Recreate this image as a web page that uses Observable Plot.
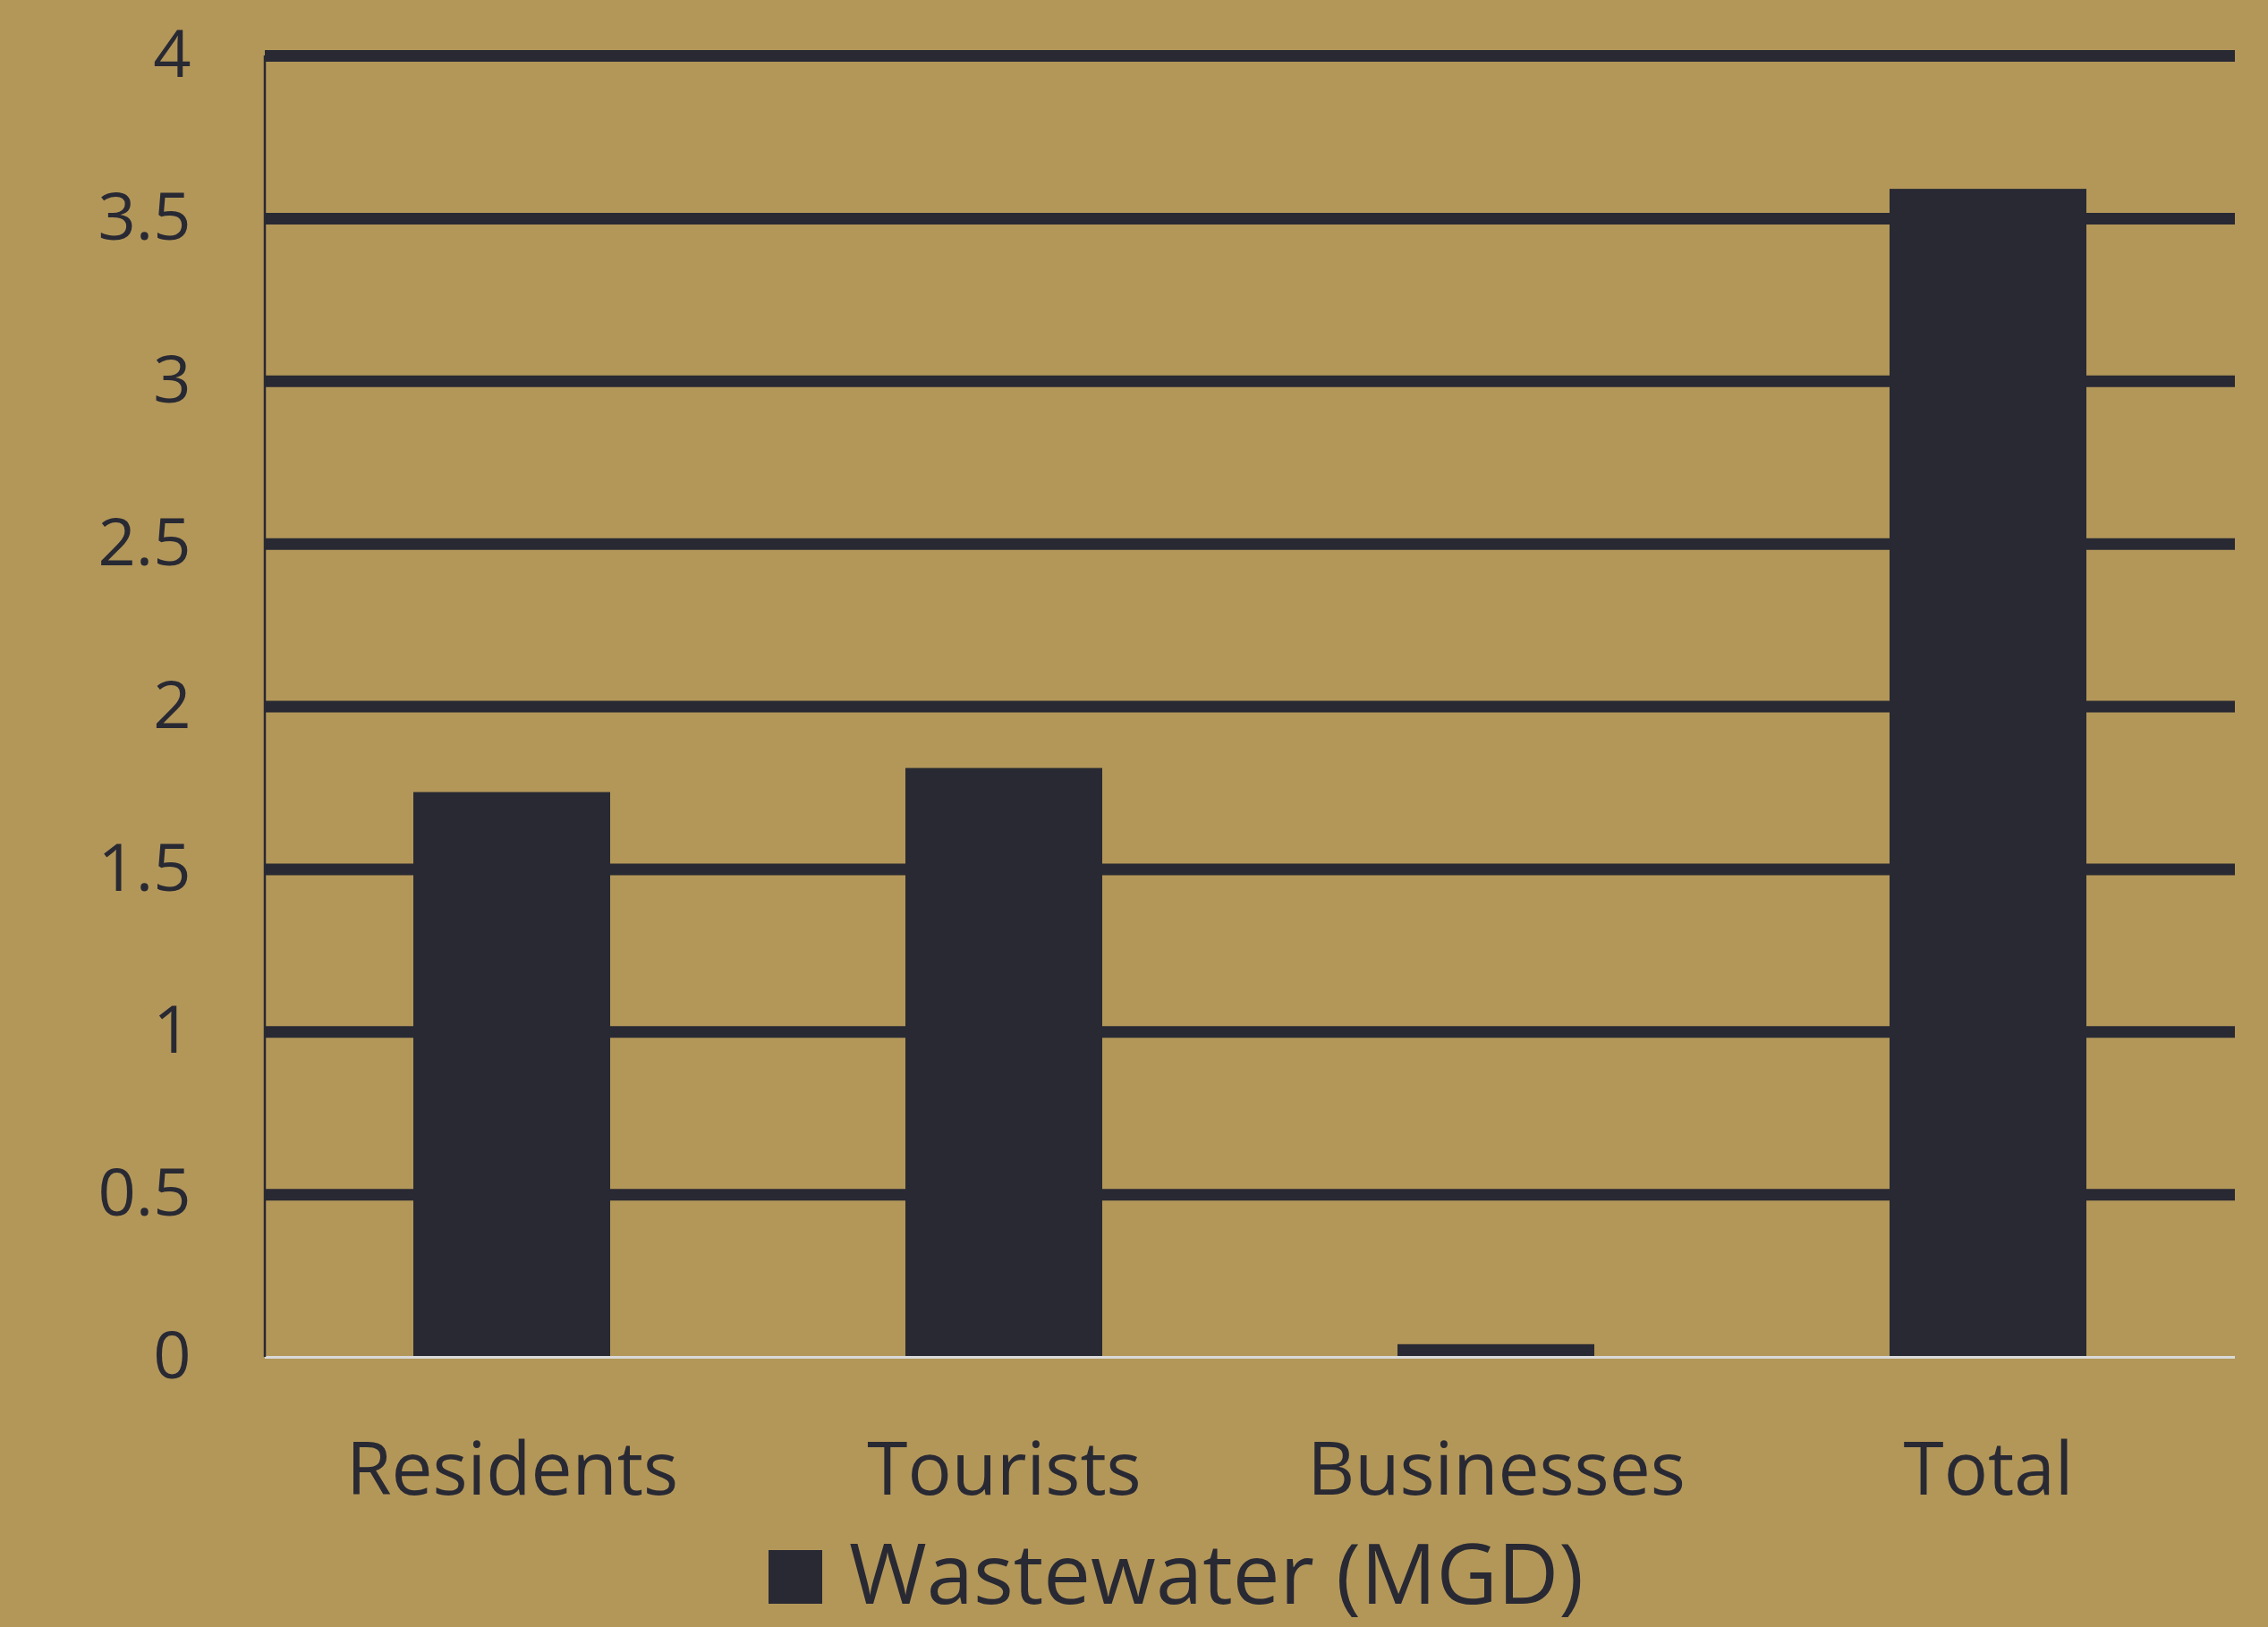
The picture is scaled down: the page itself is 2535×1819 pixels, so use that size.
<!DOCTYPE html>
<html>
<head>
<meta charset="utf-8">
<script src="https://cdn.jsdelivr.net/npm/d3@7"></script>
<script src="https://cdn.jsdelivr.net/npm/@observablehq/plot@0.6"></script>
<style>
  html, body { margin: 0; padding: 0; background: #B39759; }
  body { width: 2535px; min-height: 1819px; font-family: "Open Sans", sans-serif; color: #282933; }
  #legend { display: flex; align-items: baseline; padding-left: 859px; margin-top: 10px; font-size: 94px; line-height: 1; }
  #legend .sw { display: inline-block; width: 60px; height: 60px; background: #282933; margin-right: 30px; }
</style>
</head>
<body>
<div id="chart"></div>
<div id="legend"><span class="sw"></span><span>Wastewater (MGD)</span></div>
<script>
const categories = ["Residents", "Tourists", "Businesses", "Total"];
const wastewater = [1.736, 1.81, 0.039, 3.59];
const yTicks = [0, 0.5, 1, 1.5, 2, 2.5, 3, 3.5, 4];
const gridTicks = [0.5, 1, 1.5, 2, 2.5, 3, 3.5, 4];

const data = categories.map((c, i) => ({category: c, value: wastewater[i]}));
const dark = "#282933";

// left axis line, drawn from the y scale
const axisLine = (index, scales, values, dimensions) => {
  const x0 = dimensions.marginLeft;
  const [d0, d1] = scales.scales ? scales.scales.y.domain : [0, 4];
  return d3.create("svg:line")
    .attr("x1", x0).attr("x2", x0)
    .attr("y1", scales.y(4)).attr("y2", scales.y(0))
    .attr("stroke", dark).attr("stroke-width", 2.5)
    .node();
};

const plot = Plot.plot({
  width: 2535,
  height: 1700,
  marginLeft: 296,
  marginRight: 37,
  marginTop: 62,
  marginBottom: 183,
  style: {background: "#B39759", color: dark, fontFamily: "Open Sans, sans-serif", fontSize: "74px", overflow: "visible"},
  x: {domain: categories, paddingInner: 0.6, paddingOuter: 0.3, label: null},
  y: {domain: [0, 4], label: null},
  marks: [
    Plot.ruleY(gridTicks, {stroke: dark, strokeWidth: 13}),
    Plot.barY(data, {x: "category", y: "value", fill: dark}),
    Plot.ruleY([0], {stroke: "#d9d9d9", strokeWidth: 3}),
    axisLine,
    Plot.axisY({ticks: yTicks, tickSize: 0, tickPadding: 83, tickFormat: d => String(d), label: null, fontSize: 74}),
    Plot.axisX({tickSize: 0, tickPadding: 95, label: null, fontSize: 82})
  ]
});
document.getElementById("chart").appendChild(plot);
</script>
</body>
</html>
